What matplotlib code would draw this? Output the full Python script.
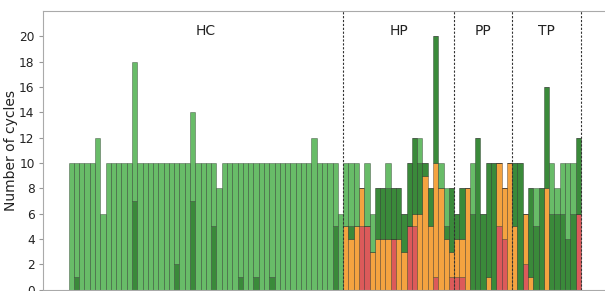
import matplotlib
matplotlib.use("Agg")
import matplotlib.pyplot as plt
import numpy as np

# ---- data (segments stacked bottom->top: red, orange, dark green, light green) ----
groups = ["HC", "HP", "PP", "TP"]

hc_red    = [0] * 52
hc_orange = [0] * 52
hc_dark   = [0,1,0,0,0,0,0,0,0,0, 0,0,7,0,0,0,0,0,0,0, 2,0,0,7,0,0,0,5,0,0,
             0,0,1,0,0,1,0,0,1,0, 0,0,0,0,0,0,0,0,0,0, 5,0]
hc_light  = [10,9,10,10,10,12,6,10,10,10, 10,10,11,10,10,10,10,10,10,10,
             8,10,10,7,10,10,10,5,8,10, 10,10,9,10,10,9,10,10,9,10,
             10,10,10,10,10,10,12,10,10,10, 5,6]

hp_red    = [0,0,0,5,5,0,0,0,0,4, 0,0,5,5,0,0,0,1,0,0,1]
hp_orange = [5,4,5,3,0,3,4,4,4,0, 4,3,0,1,6,9,5,9,8,4,2]
hp_dark   = [0,1,0,0,0,0,4,4,4,4, 4,3,5,6,4,1,3,10,0,1,5]
hp_light  = [5,5,5,0,5,3,0,0,2,0, 0,0,0,0,2,0,0,0,2,3,0]

pp_red    = [1,1,0,0,0,0,0,0,5,4,0]
pp_orange = [3,3,8,0,0,0,1,0,5,4,10]
pp_dark   = [2,4,0,6,12,6,9,10,0,0,0]
pp_light  = [0,0,0,4,0,0,0,0,0,0,0]

tp_red    = [0,0,2,0,0,0,0,0,0,0,0,0,6]
tp_orange = [5,0,4,1,0,0,8,0,0,0,0,0,0]
tp_dark   = [5,10,0,7,5,8,8,6,6,6,4,6,6]
tp_light  = [0,0,0,0,3,0,0,4,2,4,6,4,0]

red    = np.array(hc_red + hp_red + pp_red + tp_red, dtype=float)
orange = np.array(hc_orange + hp_orange + pp_orange + tp_orange, dtype=float)
dark   = np.array(hc_dark + hp_dark + pp_dark + tp_dark, dtype=float)
light  = np.array(hc_light + hp_light + pp_light + tp_light, dtype=float)
sizes = [len(hc_dark), len(hp_dark), len(pp_dark), len(tp_dark)]

x = np.arange(len(red))

fig = plt.figure(figsize=(6.05, 2.91), dpi=100)
ax = fig.add_axes([43/605, 1.4/291, 563.4/605, 278.6/291])

c_red, c_orange, c_dark, c_light = "#dc5a5a", "#f4a340", "#3a8a3a", "#68bc68"
ec = (0, 0, 0, 0.35)
kw = dict(width=1.0, edgecolor=ec, linewidth=0.6)
ax.bar(x, red, color=c_red, **kw)
ax.bar(x, orange, bottom=red, color=c_orange, **kw)
ax.bar(x, dark, bottom=red + orange, color=c_dark, **kw)
ax.bar(x, light, bottom=red + orange + dark, color=c_light, **kw)

# group separators and labels
edges = np.cumsum([0] + sizes) - 0.5
for e in edges[1:]:
    ax.axvline(e, color="#333333", linestyle=(0, (2, 1.5)), linewidth=0.8)
for g, a, b in zip(groups, edges[:-1], edges[1:]):
    ax.text((a + b) / 2, 20.4, g, ha="center", va="center", fontsize=10, color="#222222")

ax.set_xlim(-5.35, 101.35)
ax.set_ylim(0, 22)
ax.set_yticks(np.arange(0, 21, 2))
ax.set_xticks([])
ax.set_ylabel("Number of cycles", fontsize=10, color="#222222")
ax.yaxis.set_label_coords(-0.044, 0.5)
ax.tick_params(axis="y", labelsize=8.7, colors="#999999", labelcolor="#222222",
               length=3, pad=3)
for s in ax.spines.values():
    s.set_color("#aaaaaa")
ax.spines["right"].set_visible(False)

fig.savefig("out.png", dpi=100)
